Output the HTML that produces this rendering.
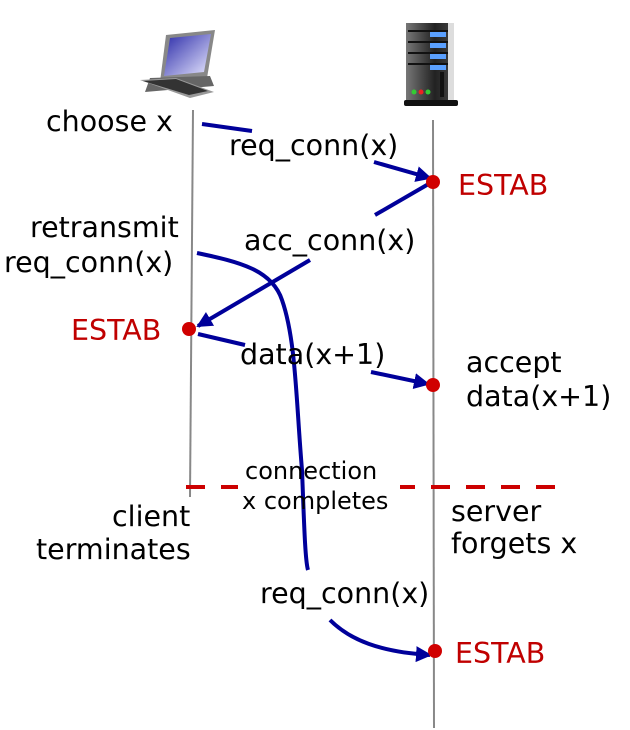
<!DOCTYPE html>
<html><head><style>
html,body{margin:0;padding:0;background:#fff;}
svg{display:block;}
text{font-family:"DejaVu Sans","Liberation Sans",sans-serif;}
</style></head><body>
<svg width="630" height="730" viewBox="0 0 630 730" xmlns="http://www.w3.org/2000/svg">
<defs>
<marker id="ah" markerWidth="4" markerHeight="4" refX="3.5" refY="2" orient="auto" markerUnits="strokeWidth">
<path d="M0,0 L4,2 L0,4 z" fill="#00009a"/>
</marker>
<linearGradient id="scr" x1="0" y1="0" x2="1" y2="1"><stop offset="0" stop-color="#2a2aa8"/><stop offset="1" stop-color="#e8e8ff"/></linearGradient>
<linearGradient id="srv" x1="0" y1="0" x2="1" y2="0"><stop offset="0" stop-color="#777"/><stop offset="0.6" stop-color="#222"/><stop offset="1" stop-color="#444"/></linearGradient>
</defs>
<!-- client icon -->
<polygon points="166,35 215,30 207,78 160,82" fill="#888"/>
<polygon points="170,38 211,34 204,72 164,76" fill="url(#scr)"/>
<polygon points="150,78 210,76 214,86 145,92" fill="#666"/>
<polygon points="140,80 176,78 214,92 190,98" fill="#999"/>
<polygon points="143,81 176,79 208,91 189,95" fill="#333"/>
<!-- server icon -->
<rect x="406" y="23" width="48" height="80" fill="url(#srv)"/>
<rect x="448" y="23" width="6" height="80" fill="#ddd"/>
<rect x="404" y="100" width="54" height="6" rx="2" fill="#111"/>
<g fill="#5aa0ff"><rect x="430" y="32" width="16" height="5"/><rect x="430" y="43" width="16" height="5"/><rect x="430" y="54" width="16" height="5"/><rect x="430" y="65" width="16" height="5"/></g>
<g fill="#111"><rect x="408" y="30" width="40" height="2"/><rect x="408" y="41" width="40" height="2"/><rect x="408" y="52" width="40" height="2"/><rect x="408" y="63" width="40" height="2"/><rect x="440" y="72" width="4" height="25"/></g>
<circle cx="414" cy="92" r="2.5" fill="#3c3"/><circle cx="421" cy="92" r="2.5" fill="#e22"/><circle cx="428" cy="92" r="2.5" fill="#3c3"/>
<!-- timelines -->
<line x1="193" y1="110" x2="190" y2="497" stroke="#888" stroke-width="2"/>
<line x1="433" y1="120" x2="434" y2="728" stroke="#888" stroke-width="2"/>
<!-- dashed -->
<line x1="186" y1="487" x2="565" y2="487" stroke="#c00" stroke-width="4" stroke-dasharray="19,16"/>
<rect x="238" y="456" width="162" height="62" fill="#fff"/>
<!-- arrows -->
<g stroke="#00009a" stroke-width="4" fill="none">
<line x1="202" y1="124" x2="252" y2="131"/>
<line x1="374" y1="162" x2="430" y2="178" marker-end="url(#ah)"/>
<line x1="432" y1="182" x2="375" y2="215"/>
<line x1="310" y1="260" x2="198" y2="326" marker-end="url(#ah)"/>
<line x1="198" y1="334" x2="245" y2="345"/>
<line x1="371" y1="372" x2="428" y2="384" marker-end="url(#ah)"/>
<path d="M197,253 C240,262 272,270 282,300 C296,340 296,400 302,470 C304,520 305,560 308,570"/>
<path d="M330,620 C350,640 380,652 430,655" marker-end="url(#ah)"/>
</g>
<!-- dots -->
<g fill="#d00000"><circle cx="433" cy="182" r="7"/><circle cx="189" cy="329" r="7"/><circle cx="433" cy="385" r="7"/><circle cx="435" cy="651" r="7"/></g>
<!-- labels -->
<g font-size="28.5" fill="#000">
<text x="46" y="131">choose x</text>
<text x="229" y="155">req_conn(x)</text>
<text x="30" y="237">retransmit</text>
<text x="4" y="272">req_conn(x)</text>
<text x="244" y="250">acc_conn(x)</text>
<text x="240" y="364">data(x+1)</text>
<text x="466" y="372">accept</text>
<text x="466" y="406">data(x+1)</text>
<text x="112" y="526">client</text>
<text x="36" y="559">terminates</text>
<text x="451" y="521">server</text>
<text x="451" y="553">forgets x</text>
<text x="260" y="603">req_conn(x)</text>
</g>
<g font-size="24" fill="#000">
<text x="245" y="479">connection</text>
<text x="242" y="509">x completes</text>
</g>
<g font-size="28.5" fill="#c00000">
<text x="458" y="195">ESTAB</text>
<text x="71" y="340">ESTAB</text>
<text x="455" y="663">ESTAB</text>
</g>
</svg>
</body></html>
